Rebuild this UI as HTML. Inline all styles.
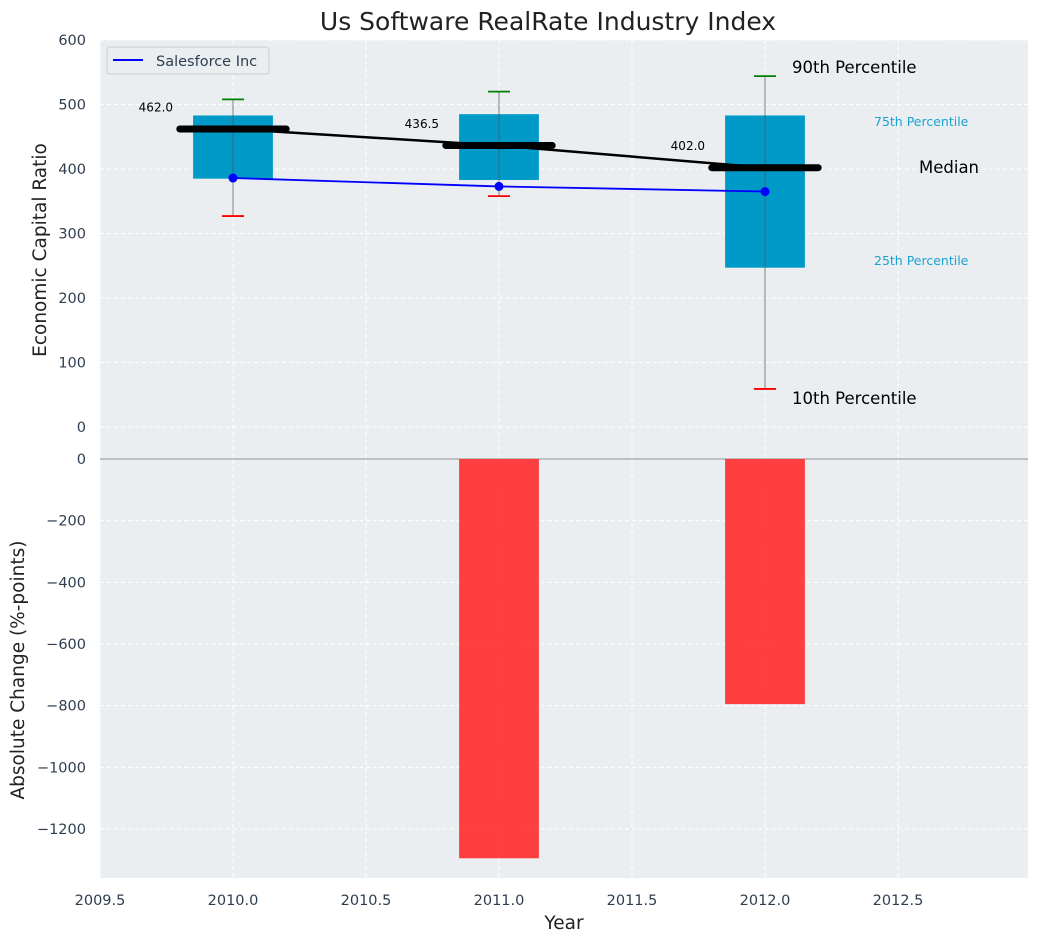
<!DOCTYPE html>
<html><head><meta charset="utf-8"><style>
body{margin:0;background:#fff;}
svg{display:block;font-family:"DejaVu Sans","Liberation Sans",sans-serif;}
</style></head><body>
<svg id="c" width="1039" height="942" xmlns="http://www.w3.org/2000/svg"></svg>
<script>
const years=[2010,2011,2012];
const p10=[327,358,59];
const p25=[385,383,247];
const medians=[462,436.5,402];
const p75=[483,485,483];
const p90=[508,520,544];
const company=[386,373,365];
const changes=[0,-1295,-795];
const xTicks=[2009.5,2010,2010.5,2011,2011.5,2012,2012.5];
const yTopTicks=[0,100,200,300,400,500,600];
const yBotTicks=[0,-200,-400,-600,-800,-1000,-1200];

const L=100,R=1028,T1=40,B1=459,T2=459,B2=878;
const X=v=>L+(v-2009.5)*266;
const Y1=v=>427-(v)*0.645;
const Y2=v=>459-v*0.30833;
const svg=document.getElementById('c');
const NS='http://www.w3.org/2000/svg';
function el(tag,attrs,name,txt){const e=document.createElementNS(NS,tag);for(const k in attrs)e.setAttribute(k,attrs[k]);


if(txt!==undefined)e.textContent=txt;svg.appendChild(e);return e;}

el('rect',{x:L,y:T1,width:R-L,height:B2-T1,fill:'#eaeef0'},'plot-background');
xTicks.forEach(t=>{el('line',{x1:X(t),x2:X(t),y1:T1,y2:B2,stroke:'#fff','stroke-dasharray':'4,3','stroke-width':1},'x-grid-line');
 el('text',{x:X(t),y:905,'text-anchor':'middle','font-size':14.5,fill:'#2e3e50'},'x-tick-label',t.toFixed(1));});
yTopTicks.forEach(t=>{el('line',{x1:L,x2:R,y1:Y1(t),y2:Y1(t),stroke:'#fff','stroke-dasharray':'4,3'},'y-grid-line-top');
 el('text',{x:86,y:Y1(t)+5,'text-anchor':'end','font-size':14.5,fill:'#2e3e50'},'y-tick-label-top',t);});
yBotTicks.forEach(t=>{if(t!==0)el('line',{x1:L,x2:R,y1:Y2(t),y2:Y2(t),stroke:'#fff','stroke-dasharray':'4,3'},'y-grid-line-bottom');
 el('text',{x:86,y:Y2(t)+5,'text-anchor':'end','font-size':14.5,fill:'#2e3e50'},'y-tick-label-bottom',t<0?'\u2212'+(-t):t);});
el('line',{x1:L,x2:R,y1:459,y2:459,stroke:'#b0b0b0','stroke-width':1.5},'zero-line');

years.forEach((y,i)=>{const v=changes[i];if(v!==0){const a=Y2(0),b=Y2(v);el('rect',{x:X(y-0.15),y:Math.min(a,b),width:X(y+0.15)-X(y-0.15),height:Math.abs(b-a),fill:'#ff3030','fill-opacity':0.92},'change-bar-'+y);}});

years.forEach((y,i)=>{
 el('rect',{x:X(y-0.15),y:Y1(p75[i]),width:X(y+0.15)-X(y-0.15),height:Y1(p25[i])-Y1(p75[i]),fill:'#009ac9'},'iqr-box-'+y);
 el('line',{x1:X(y),x2:X(y),y1:Y1(p10[i]),y2:Y1(p90[i]),stroke:'#555','stroke-opacity':0.6,'stroke-width':1.2},'whisker-'+y);
 el('line',{x1:X(y)-11,x2:X(y)+11,y1:Y1(p90[i]),y2:Y1(p90[i]),stroke:'green','stroke-width':1.8},'p90-cap-'+y);
 el('line',{x1:X(y)-11,x2:X(y)+11,y1:Y1(p10[i]),y2:Y1(p10[i]),stroke:'red','stroke-width':1.8},'p10-cap-'+y);
});
el('polyline',{points:years.map((y,i)=>X(y)+','+Y1(medians[i])).join(' '),fill:'none',stroke:'#000','stroke-width':2.5},'median-trend-line');
years.forEach((y,i)=>{
 el('line',{x1:X(y-0.2),x2:X(y+0.2),y1:Y1(medians[i]),y2:Y1(medians[i]),stroke:'#000','stroke-width':7,'stroke-linecap':'round'},'median-bar-'+y);
 el('text',{x:X(y-0.29),y:Y1(medians[i]+35)+5,'text-anchor':'middle','font-size':12,fill:'#000'},'median-value-label',medians[i].toFixed(1));
});
el('polyline',{points:years.map((y,i)=>X(y)+','+Y1(company[i])).join(' '),fill:'none',stroke:'#0000ff','stroke-width':1.8},'salesforce-line');
years.forEach((y,i)=>el('circle',{cx:X(y),cy:Y1(company[i]),r:4.5,fill:'#0000ff'},'salesforce-point'));

el('text',{x:792,y:73,'font-size':16.5,fill:'#000'},'p90-label','90th Percentile');
el('text',{x:874,y:126,'font-size':12.5,fill:'#1aa3d1'},'p75-label','75th Percentile');
el('text',{x:919,y:173,'font-size':16.5,fill:'#000'},'median-label','Median');
el('text',{x:874,y:265,'font-size':12.5,fill:'#1aa3d1'},'p25-label','25th Percentile');
el('text',{x:792,y:404,'font-size':16.5,fill:'#000'},'p10-label','10th Percentile');

el('rect',{x:107,y:47,width:162,height:27,rx:3,fill:'#eaeef0',stroke:'#ccc'},'legend-box');
el('line',{x1:113,x2:143,y1:60,y2:60,stroke:'#0000ff','stroke-width':2},'legend-line');
el('text',{x:156,y:66,'font-size':14.5,fill:'#2e3e50'},'legend-label','Salesforce Inc');

el('text',{x:548,y:30,'text-anchor':'middle','font-size':25,fill:'#222'},'chart-title','Us Software RealRate Industry Index');
el('text',{x:564,y:929,'text-anchor':'middle','font-size':18.5,fill:'#222'},'x-axis-title','Year');
el('text',{x:46,y:250,'text-anchor':'middle','font-size':18.5,fill:'#222',transform:'rotate(-90 46 250)'},'y-axis-title-top','Economic Capital Ratio');
el('text',{x:24,y:670,'text-anchor':'middle','font-size':18.5,fill:'#222',transform:'rotate(-90 24 670)'},'y-axis-title-bottom','Absolute Change (%-points)');
</script>
</body></html>
